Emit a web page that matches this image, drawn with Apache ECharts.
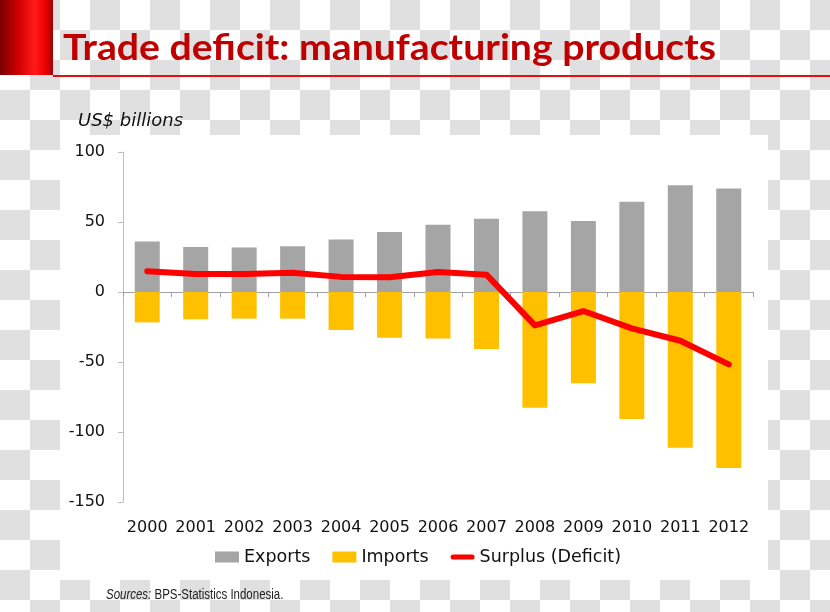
<!DOCTYPE html>
<html>
<head>
<meta charset="utf-8">
<script src="https://cdn.jsdelivr.net/npm/echarts@6/dist/echarts.min.js"></script>
<style>
html,body{margin:0;padding:0;}
body{
  width:830px;height:612px;overflow:hidden;
  background-color:#fff;
  background-image:conic-gradient(#e0e0e0 25%, #fff 0 50%, #e0e0e0 0 75%, #fff 0);
  background-size:60px 60px;
}
#chart{width:830px;height:612px;}
</style>
</head>
<body>
<div id="chart"></div>
<script>
// ---- data ----
var years = ['2000','2001','2002','2003','2004','2005','2006','2007','2008','2009','2010','2011','2012'];
var exportsVals = [36, 32.1, 31.7, 32.6, 37.5, 42.9, 48.1, 52.4, 57.6, 50.7, 64.5, 76.2, 74.0];
var importsVals = [-21.7, -19.5, -19.0, -19.0, -27.1, -32.6, -33.3, -40.7, -82.6, -65.2, -90.7, -111.2, -125.7];
var surplusVals = [14.8, 12.9, 12.9, 13.8, 10.8, 10.5, 14.3, 12.4, -23.8, -13.6, -26.0, -34.8, -51.7];
var yTicks = {min: -150, max: 100, interval: 50};
var titleText = 'Trade deficit: manufacturing products';
var unitText = 'US$ billions';
var seriesNames = ['Exports', 'Imports', 'Surplus (Deficit)'];

// fit title width
function measure(txt, font){
  var c = document.createElement('canvas').getContext('2d');
  c.font = font; return c.measureText(txt).width;
}
var titleFont = '700 37px Lato';
var titleScale = 653 / measure(titleText, titleFont);
var srcFont = '14px "Liberation Sans"';

var chart = echarts.init(document.getElementById('chart'), null, {renderer:'canvas'});
var axisFont = 'DejaVu Sans';
var option = {
  backgroundColor: 'transparent',
  animation: false,
  grid: {left:123, right:77, top:152, bottom:110, containLabel:false, outerBoundsMode:'none'},
  graphic: [
    {type:'rect', z:-10, shape:{x:60, y:135, width:708, height:445}, style:{fill:'#ffffff'}},
    {type:'rect', shape:{x:0, y:0, width:53, height:75},
      style:{fill:new echarts.graphic.LinearGradient(0,0,1,0,[
        {offset:0, color:'#7a0000'},{offset:0.35, color:'#d00000'},
        {offset:0.65, color:'#ff1a1a'},{offset:0.85, color:'#f00000'},{offset:1, color:'#a00000'}])}},
    {type:'rect', shape:{x:53, y:75, width:777, height:2}, style:{fill:'#e01010'}},
    {type:'text', x:63, y:30, scaleX:titleScale, scaleY:1,
      style:{text:titleText, font:titleFont, fill:'#c00000', verticalAlign:'top'}},
    {type:'text', x:78, y:112,
      style:{text:unitText, font:'italic 18px "DejaVu Sans"', fill:'#111', verticalAlign:'top'}},
    {type:'text', x:106, y:588, scaleX:0.82,
      style:{text:'{i|Sources:} BPS-Statistics Indonesia.', font:srcFont, fill:'#222', verticalAlign:'top',
        rich:{i:{fontStyle:'italic', fontFamily:'Liberation Sans', fontSize:14, fill:'#222'}}}}
  ],
  legend: {
    left: 210, top: 543,
    itemWidth: 24, itemHeight: 11, itemGap: 22,
    textStyle: {fontFamily: axisFont, fontSize: 17.5, color: '#111'},
    data: [
      {name: seriesNames[0], icon: 'rect'},
      {name: seriesNames[1], icon: 'rect'},
      {name: seriesNames[2], icon: 'path://M3,0 L25,0 A3,3 0 0 1 25,6 L3,6 A3,3 0 0 1 3,0 Z'}
    ]
  },
  xAxis: [
    {type:'category', data:years, position:'bottom',
      axisLine:{show:false, onZero:false}, axisTick:{show:false},
      axisLabel:{fontFamily:axisFont, fontSize:16, color:'#111', margin:18, interval:0},
      splitLine:{show:false}},
    {type:'category', data:years, position:'bottom',
      axisLine:{show:true, onZero:true, lineStyle:{color:'#a0a0ac', width:1}},
      axisTick:{show:true, length:5, inside:false, lineStyle:{color:'#a0a0ac'}},
      axisLabel:{show:false}, splitLine:{show:false}}
  ],
  yAxis: {
    type:'value', min:yTicks.min, max:yTicks.max, interval:yTicks.interval,
    axisLine:{show:true, lineStyle:{color:'#bdbdbd'}},
    axisTick:{show:true, length:5, lineStyle:{color:'#bdbdbd'}},
    axisLabel:{fontFamily:axisFont, fontSize:16, color:'#111', margin:18},
    splitLine:{show:false}
  },
  series: [
    {name:seriesNames[0], type:'bar', stack:'t', data:exportsVals, barWidth:25, xAxisIndex:0,
      itemStyle:{color:'#a5a5a5'}},
    {name:seriesNames[1], type:'bar', stack:'t', data:importsVals, barWidth:25, xAxisIndex:0,
      itemStyle:{color:'#ffc000'}},
    {name:seriesNames[2], type:'line', data:surplusVals, xAxisIndex:0, z:5,
      showSymbol:false, symbol:'none', smooth:false,
      lineStyle:{color:'#ff0000', width:6, cap:'round', join:'round'},
      itemStyle:{color:'#ff0000'}}
  ]
};
chart.setOption(option);
</script>
</body>
</html>
